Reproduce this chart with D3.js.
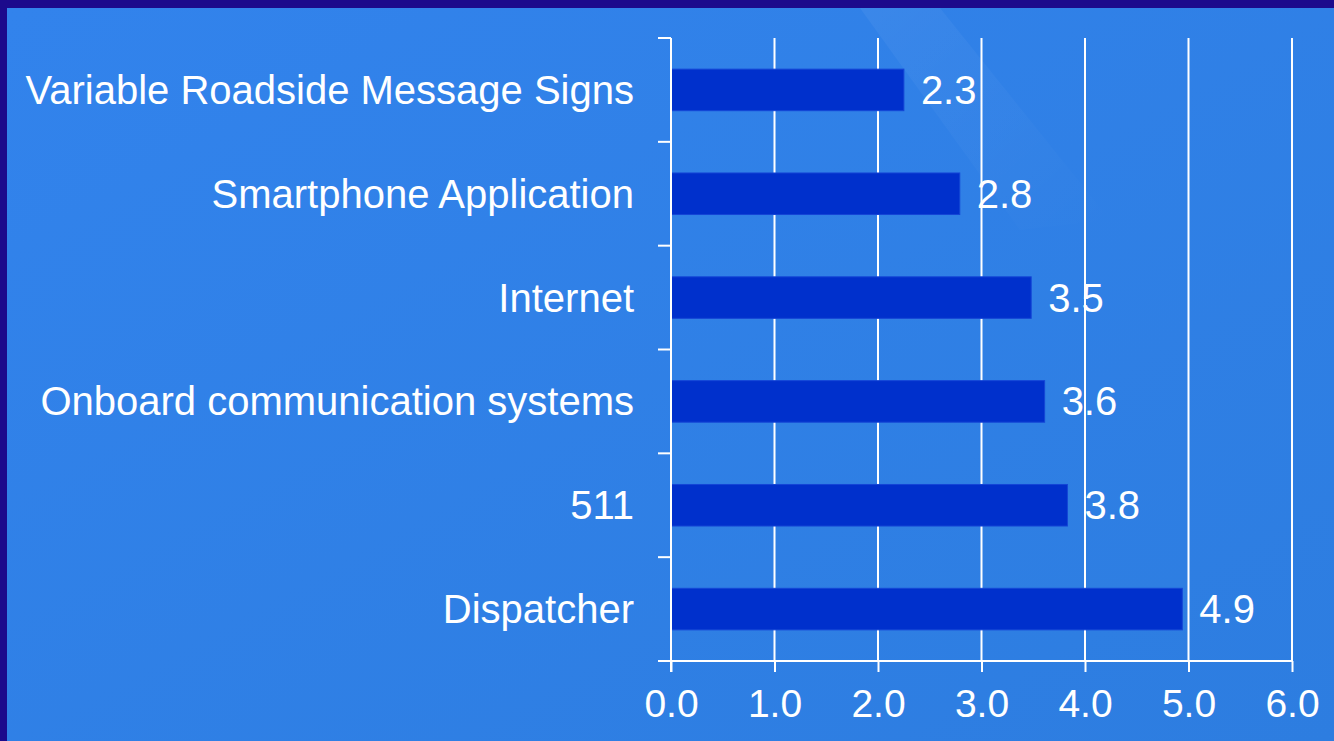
<!DOCTYPE html>
<html>
<head>
<meta charset="utf-8">
<script src="https://cdn.jsdelivr.net/npm/d3@7"></script>
<style>
  html, body { margin: 0; padding: 0; background: #1c0a8c; }
  svg { display: block; }
</style>
</head>
<body>
<script>
// ---- data ----
const categories = [
  "Variable Roadside Message Signs",
  "Smartphone Application",
  "Internet",
  "Onboard communication systems",
  "511",
  "Dispatcher"
];
const values = [2.25, 2.79, 3.48, 3.61, 3.83, 4.94];
const valueLabels = ["2.3", "2.8", "3.5", "3.6", "3.8", "4.9"];
const xTicks = [0, 1, 2, 3, 4, 5, 6];
const xTickLabels = ["0.0", "1.0", "2.0", "3.0", "4.0", "5.0", "6.0"];

// ---- layout ----
const W = 1334, H = 741;
const plotLeft = 671, plotRight = 1292, plotTop = 38, plotBottom = 661;
const font = "'Liberation Sans', Arial, sans-serif";

const svg = d3.select("body").append("svg").attr("width", W).attr("height", H);
const defs = svg.append("defs");

const bg = defs.append("linearGradient").attr("id", "bg")
  .attr("x1", "0").attr("y1", "0").attr("x2", "1").attr("y2", "1");
bg.append("stop").attr("offset", "0%").attr("stop-color", "#3283ec");
bg.append("stop").attr("offset", "100%").attr("stop-color", "#2d7de0");

const band = defs.append("linearGradient").attr("id", "band")
  .attr("x1", "0").attr("y1", "0").attr("x2", "1").attr("y2", "1");
band.append("stop").attr("offset", "0%").attr("stop-color", "#ffffff").attr("stop-opacity", 0.05);
band.append("stop").attr("offset", "100%").attr("stop-color", "#ffffff").attr("stop-opacity", 0);

// dark frame + blue panel
svg.append("rect").attr("width", W).attr("height", H).attr("fill", "#1c0a8c");
svg.append("rect").attr("x", 7).attr("y", 8).attr("width", W - 7).attr("height", H - 8).attr("fill", "url(#bg)");
svg.append("path")
  .attr("d", `M860,8 L940,8 L1110,220 L1020,230 Z`)
  .attr("fill", "url(#band)");

// ---- scales ----
const x = d3.scaleLinear().domain([0, 6]).range([plotLeft, plotRight]);
const y = d3.scaleBand().domain(categories).range([plotTop, plotBottom]).paddingInner(0.6).paddingOuter(0.3);
const yEdges = d3.scaleLinear().domain([0, categories.length]).range([plotTop, plotBottom]);

// gridlines
svg.append("g").selectAll("line").data(xTicks.slice(1)).join("line")
  .attr("x1", d => x(d)).attr("x2", d => x(d))
  .attr("y1", plotTop).attr("y2", plotBottom)
  .attr("stroke", "#ffffff").attr("stroke-width", 2);

// bars
svg.append("g").selectAll("rect").data(values).join("rect")
  .attr("x", x(0))
  .attr("y", (d, i) => y(categories[i]))
  .attr("width", d => x(d) - x(0))
  .attr("height", y.bandwidth())
  .attr("fill", "#0030cc")
  .attr("stroke", "#1446d6").attr("stroke-width", 1);

// y axis line + category boundary ticks
svg.append("line")
  .attr("x1", x(0)).attr("x2", x(0))
  .attr("y1", plotTop).attr("y2", plotBottom + 11)
  .attr("stroke", "#ffffff").attr("stroke-width", 2);
svg.append("g").selectAll("line").data(d3.range(categories.length + 1)).join("line")
  .attr("x1", x(0) - 13).attr("x2", x(0))
  .attr("y1", d => yEdges(d)).attr("y2", d => yEdges(d))
  .attr("stroke", "#ffffff").attr("stroke-width", 2);

// x axis
const xAxis = d3.axisBottom(x).tickValues(xTicks).tickFormat((d, i) => xTickLabels[i])
  .tickSize(11).tickPadding(17);
const gx = svg.append("g").attr("transform", `translate(0,${plotBottom})`).call(xAxis);
gx.select(".domain").remove();
gx.selectAll(".tick line").attr("stroke", "#ffffff").attr("stroke-width", 2);
gx.selectAll(".tick text")
  .attr("fill", "#ffffff").attr("font-family", font).attr("font-size", 39)
  .attr("dy", "0.71em");
svg.append("line")
  .attr("x1", x(0) - 13).attr("x2", x(6))
  .attr("y1", plotBottom).attr("y2", plotBottom)
  .attr("stroke", "#ffffff").attr("stroke-width", 2);

// category labels
svg.append("g").selectAll("text").data(categories).join("text")
  .attr("x", x(0) - 37)
  .attr("y", d => y(d) + y.bandwidth() / 2)
  .attr("dy", "0.35em")
  .attr("text-anchor", "end")
  .attr("fill", "#ffffff").attr("font-family", font).attr("font-size", 40)
  .text(d => d);

// value labels
svg.append("g").selectAll("text").data(values).join("text")
  .attr("x", d => x(d) + 17)
  .attr("y", (d, i) => y(categories[i]) + y.bandwidth() / 2)
  .attr("dy", "0.35em")
  .attr("fill", "#ffffff").attr("font-family", font).attr("font-size", 40)
  .text((d, i) => valueLabels[i]);
</script>
</body>
</html>
